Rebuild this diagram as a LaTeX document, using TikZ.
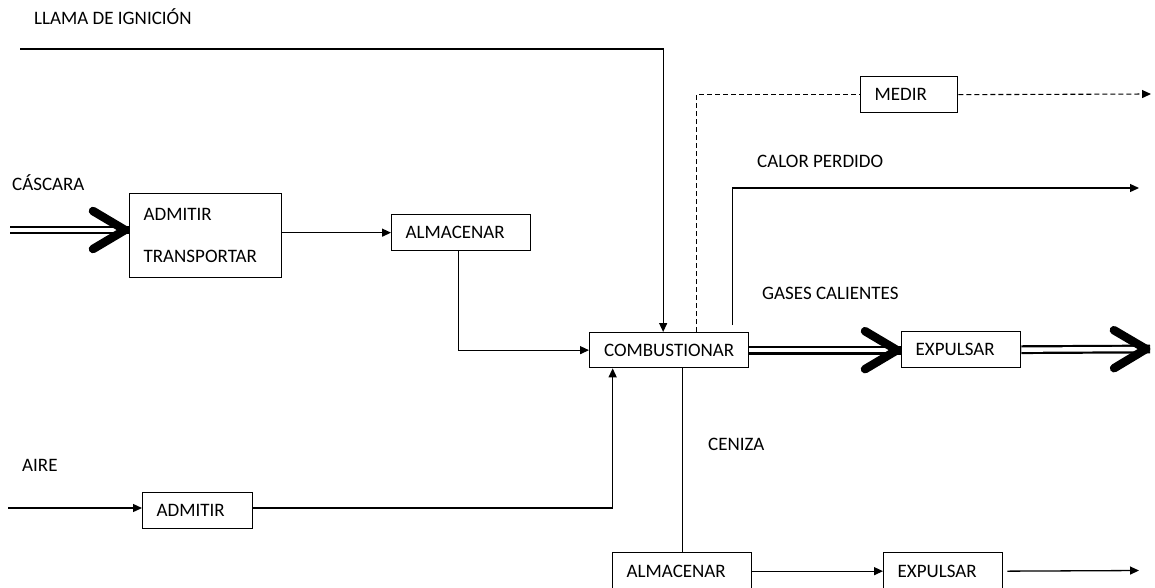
\documentclass[tikz,border=0pt]{standalone}
\usepackage{fontspec}
\setmainfont{Carlito}
\usetikzlibrary{arrows.meta,decorations.markings}
\tikzset{
  box/.style={draw, line width=1.3pt, inner xsep=14pt, inner ysep=0pt, anchor=north west, align=left},
  flow/.style={line width=1.3pt},
  dashflow/.style={line width=1.1pt, dash pattern=on 5pt off 3pt},
  heavy/.style={line width=8.8pt,
    postaction={draw=white, line width=4.4pt},
    postaction={decorate, decoration={markings, mark=at position 1 with
      {\draw[line width=8.5pt, line cap=round, line join=round] (-36pt,19pt) -- (-4pt,0pt) -- (-36pt,-19pt);}}}},
  lbl/.style={anchor=base west, inner sep=0pt}
}
\begin{document}
\begin{tikzpicture}[x=1pt,y=-1pt,>={Triangle[length=9pt,width=8pt]}]
\fontsize{19}{23}\selectfont
\useasboundingbox (0,0) rectangle (1155,587);
% boxes
\node[box, text width=124pt, minimum height=84pt] (adm1) at (129,193) {ADMITIR\\[19pt]TRANSPORTAR};
\node[box, text width=111pt, minimum height=36pt] (alm1) at (391,214) {ALMACENAR};
\node[box, align=center, text width=131pt, minimum height=35pt] (comb) at (589,332) {COMBUSTIONAR};
\node[box, text width=91pt, minimum height=36pt] (exp1) at (901,331) {EXPULSAR};
\node[box, text width=69pt, minimum height=36pt] (medir) at (860,76) {MEDIR};
\node[box, text width=82pt, minimum height=36pt] (adm2) at (142,492) {ADMITIR};
\node[box, text width=111pt, minimum height=37pt] (alm2) at (612,552) {ALMACENAR};
\node[box, text width=91pt, minimum height=37pt] (exp2) at (883,552) {EXPULSAR};
% labels
\node[lbl] (llama) at (34,24) {LLAMA DE IGNICIÓN};
\node[lbl] (cascara) at (12,190) {CÁSCARA};
\node[lbl] (aire) at (22,471) {AIRE};
\node[lbl] (calor) at (757,167) {CALOR PERDIDO};
\node[lbl] (gases) at (762,299) {GASES CALIENTES};
\node[lbl] (ceniza) at (708,450) {CENIZA};
% free ends
\coordinate (llamain) at (20,49);
\coordinate (medirout) at (1151,94);
\coordinate (calorout) at (1139,188);
\coordinate (cascin) at (10,230);
\coordinate (gasout) at (1150,349);
\coordinate (airein) at (8,508);
\coordinate (ashout) at (1139,570.5);
% connectors
\draw[flow,->] (llamain) -| ([xshift=-6pt]comb.north);
\draw[dashflow] ([xshift=27.5pt]comb.north) |- (medir.west);
\draw[dashflow,->] (medir.east) -- (medirout);
\draw[flow,->] ([xshift=63.5pt,yshift=7pt]comb.north) |- (calorout);
\draw[heavy] (cascin) -- (cascin -| adm1.west);
\draw[flow,->] (adm1.east |- alm1.west) -- (alm1.west);
\draw[flow,->] ([xshift=-3pt]alm1.south) |- (comb.west);
\draw[heavy] (comb.east) -- (comb.east -| exp1.west);
\draw[heavy] (exp1.east) -- (gasout);
\draw[flow,->] (airein) -- (airein -| adm2.west);
\draw[flow,->] (adm2.east |- airein) -| ([xshift=-56.5pt]comb.south);
\draw[flow] (comb.south -| alm2.north) -- (alm2.north);
\draw[flow,->] (alm2.east) -- (exp2.west);
\draw[flow,->] ([xshift=4pt]exp2.east) -- (ashout);
\end{tikzpicture}
\end{document}
